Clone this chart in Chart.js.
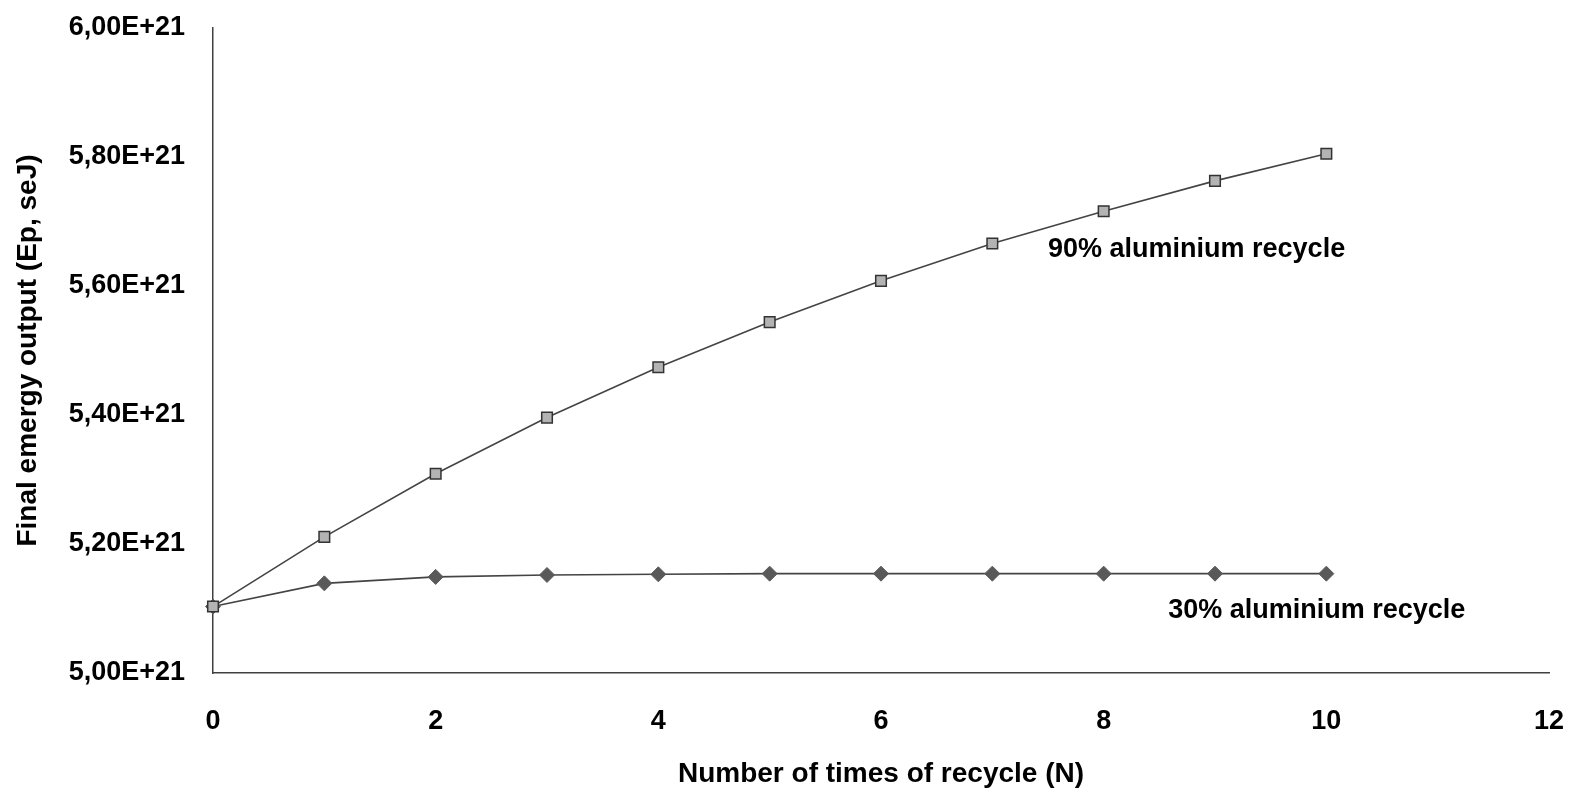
<!DOCTYPE html>
<html>
<head>
<meta charset="utf-8">
<script src="https://cdn.jsdelivr.net/npm/chart.js@4/dist/chart.umd.min.js"></script>
<style>
html,body{margin:0;padding:0;background:#fff;}
#wrap{width:1575px;height:797px;}
</style>
</head>
<body>
<div id="wrap"><canvas id="emergyChart" width="1575" height="797"></canvas></div>
<script>
// number of recycles
const recycles=[0,1,2,3,4,5,6,7,8,9,10];

// final emergy output, seJ
const recycle90=[5.103e21,5.211e21,5.309e21,5.396e21,5.474e21,5.544e21,5.608e21,5.666e21,5.716e21,5.763e21,5.805e21];
const recycle30=[5.103e21,5.139e21,5.149e21,5.152e21,5.153e21,5.154e21,5.154e21,5.154e21,5.154e21,5.154e21,5.154e21];

const seriesNames=['90% aluminium recycle','30% aluminium recycle'];

// where the series labels sit, in data units
const labelAt=[
{x:7.5,y:5.657e21},
{x:8.58,y:5.0974e21}
];

const FONT="'Liberation Sans', Arial, sans-serif";

const seriesLabels={
id:'seriesLabels',
afterDatasetsDraw(chart){
const ctx=chart.ctx;
const xs=chart.scales.x;
const ys=chart.scales.y;
ctx.save();
ctx.font="bold 27px "+FONT;
ctx.fillStyle='#000';
ctx.textAlign='left';
ctx.textBaseline='middle';
seriesNames.forEach((name,i)=>{
ctx.fillText(
name,
xs.getPixelForValue(labelAt[i].x),
ys.getPixelForValue(labelAt[i].y)
);
});
ctx.restore();
}
};

new Chart(
document.getElementById('emergyChart'),
{
type:'line',
data:{
datasets:[
{
label:seriesNames[0],
data:recycles.map((n,i)=>({x:n,y:recycle90[i]})),
borderColor:'#444',
borderWidth:1.6,
pointStyle:'rect',
pointRadius:7.5,
pointBackgroundColor:'#b3b3b3',
pointBorderColor:'#333',
pointBorderWidth:1.5,
tension:0,
clip:false
},
{
label:seriesNames[1],
data:recycles.map((n,i)=>({x:n,y:recycle30[i]})),
borderColor:'#444',
borderWidth:1.6,
pointStyle:'rectRot',
pointRadius:7.5,
pointBackgroundColor:'#595959',
pointBorderColor:'#595959',
pointBorderWidth:1,
tension:0,
clip:false
}
]
},
options:{
responsive:false,
animation:false,
events:[],
layout:{padding:{top:28,right:26,bottom:0,left:0}},
plugins:{
legend:{display:false},
tooltip:{enabled:false}
},
scales:{
x:{
type:'linear',
min:0,
max:12,
ticks:{
stepSize:2,
padding:32,
color:'#000',
font:{family:FONT,size:27,weight:'bold'}
},
grid:{drawOnChartArea:false,drawTicks:false},
border:{display:true,color:'#404040',width:1.5},
title:{
display:true,
text:'Number of times of recycle (N)',
color:'#000',
font:{family:FONT,size:28,weight:'bold'},
padding:{top:0,bottom:6}
},
afterFit(scale){
scale.height=124;
scale.paddingLeft=0;
scale.paddingRight=0;
}
},
y:{
min:5e21,
max:6e21,
ticks:{
stepSize:2e20,
padding:28,
color:'#000',
font:{family:FONT,size:27,weight:'bold'},
callback:v=>(v/1e21).toFixed(2).replace('.',',')+'E+21'
},
grid:{drawOnChartArea:false,drawTicks:false},
border:{display:true,color:'#404040',width:1.5},
title:{
display:true,
text:'Final emergy output (Ep, seJ)',
color:'#000',
font:{family:FONT,size:28,weight:'bold'},
padding:{top:11,bottom:0}
},
afterFit(scale){
scale.width=213;
scale.paddingTop=0;
scale.paddingBottom=0;
}
}
}
},
plugins:[seriesLabels]
}
);
</script>
</body>
</html>
